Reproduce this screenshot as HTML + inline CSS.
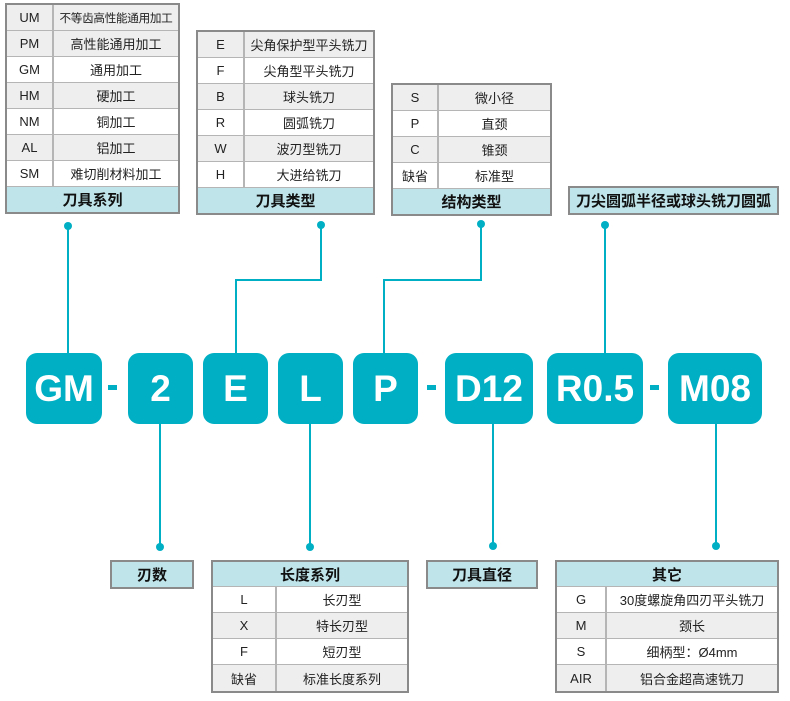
<!DOCTYPE html>
<html><head><meta charset="utf-8"><style>
*{margin:0;padding:0;box-sizing:border-box}
body{width:790px;height:701px;background:#fff;position:relative;overflow:hidden;font-family:"Liberation Sans","Noto Sans CJK SC",sans-serif;color:#222}
.t{position:absolute;border:2px solid #8a8a8a;background:#fff}
.r{display:flex;height:26px;border-bottom:1px solid #b5b5b5;font-size:13px;align-items:stretch}
.r div{display:flex;align-items:center;justify-content:center;white-space:nowrap}
.r .a{border-right:2px solid #b5b5b5}
.r .b{flex:1}
.g{background:#eeeeee}
.h{height:25px;background:#bfe5ea;font-weight:bold;font-size:15px;display:flex;align-items:center;justify-content:center;color:#111}
.bx{position:absolute;top:353px;height:71px;background:#00afc3;border-radius:11px;color:#fff;font-weight:bold;font-size:37px;display:flex;align-items:center;justify-content:center}
.d{position:absolute;top:385px;width:9px;height:5px;background:#00afc3}
svg{position:absolute;left:0;top:0}
</style></head><body>
<svg width="790" height="701">
<g stroke="#00afc3" stroke-width="2" fill="none">
<path d="M68 226 V353"/>
<path d="M321 226 V280 H236 V353"/>
<path d="M481 226 V280 H384 V353"/>
<path d="M605 226 V353"/>
<path d="M160 424 V546"/>
<path d="M310 424 V546"/>
<path d="M493 424 V546"/>
<path d="M716 424 V546"/>
</g>
<g fill="#00afc3">
<circle cx="68" cy="226" r="4"/><circle cx="321" cy="225" r="4"/><circle cx="481" cy="224" r="4"/><circle cx="605" cy="225" r="4"/>
<circle cx="160" cy="547" r="4"/><circle cx="310" cy="547" r="4"/><circle cx="493" cy="546" r="4"/><circle cx="716" cy="546" r="4"/>
</g>
</svg>

<div class="t" style="left:5px;top:3px;width:175px">
<div class="r g"><div class="a" style="width:47px">UM</div><div class="b" style="font-size:11.6px;letter-spacing:-0.3px">不等齿高性能通用加工</div></div>
<div class="r g"><div class="a" style="width:47px">PM</div><div class="b">高性能通用加工</div></div>
<div class="r"><div class="a" style="width:47px">GM</div><div class="b">通用加工</div></div>
<div class="r g"><div class="a" style="width:47px">HM</div><div class="b">硬加工</div></div>
<div class="r"><div class="a" style="width:47px">NM</div><div class="b">铜加工</div></div>
<div class="r g"><div class="a" style="width:47px">AL</div><div class="b">铝加工</div></div>
<div class="r"><div class="a" style="width:47px">SM</div><div class="b">难切削材料加工</div></div>
<div class="h">刀具系列</div>
</div>

<div class="t" style="left:196px;top:30px;width:179px">
<div class="r g"><div class="a" style="width:47px">E</div><div class="b">尖角保护型平头铣刀</div></div>
<div class="r"><div class="a" style="width:47px">F</div><div class="b">尖角型平头铣刀</div></div>
<div class="r g"><div class="a" style="width:47px">B</div><div class="b">球头铣刀</div></div>
<div class="r"><div class="a" style="width:47px">R</div><div class="b">圆弧铣刀</div></div>
<div class="r g"><div class="a" style="width:47px">W</div><div class="b">波刃型铣刀</div></div>
<div class="r"><div class="a" style="width:47px">H</div><div class="b">大进给铣刀</div></div>
<div class="h">刀具类型</div>
</div>

<div class="t" style="left:391px;top:83px;width:161px">
<div class="r g"><div class="a" style="width:46px">S</div><div class="b">微小径</div></div>
<div class="r"><div class="a" style="width:46px">P</div><div class="b">直颈</div></div>
<div class="r g"><div class="a" style="width:46px">C</div><div class="b">锥颈</div></div>
<div class="r"><div class="a" style="width:46px">缺省</div><div class="b">标准型</div></div>
<div class="h">结构类型</div>
</div>

<div class="t" style="left:568px;top:186px;width:211px"><div class="h" style="height:25px">刀尖圆弧半径或球头铣刀圆弧</div></div>

<div class="bx" style="left:26px;width:76px">GM</div>
<div class="d" style="left:108px"></div>
<div class="bx" style="left:128px;width:65px">2</div>
<div class="bx" style="left:203px;width:65px">E</div>
<div class="bx" style="left:278px;width:65px">L</div>
<div class="bx" style="left:353px;width:65px">P</div>
<div class="d" style="left:427px"></div>
<div class="bx" style="left:445px;width:88px">D12</div>
<div class="bx" style="left:547px;width:96px">R0.5</div>
<div class="d" style="left:650px"></div>
<div class="bx" style="left:668px;width:94px">M08</div>

<div class="t" style="left:110px;top:560px;width:84px"><div class="h" style="height:25px">刃数</div></div>

<div class="t" style="left:211px;top:560px;width:198px">
<div class="h" style="border-bottom:1px solid #b5b5b5">长度系列</div>
<div class="r"><div class="a" style="width:64px">L</div><div class="b">长刃型</div></div>
<div class="r g"><div class="a" style="width:64px">X</div><div class="b">特长刃型</div></div>
<div class="r"><div class="a" style="width:64px">F</div><div class="b">短刃型</div></div>
<div class="r g" style="border-bottom:0"><div class="a" style="width:64px">缺省</div><div class="b">标准长度系列</div></div>
</div>

<div class="t" style="left:426px;top:560px;width:112px"><div class="h" style="height:25px">刀具直径</div></div>

<div class="t" style="left:555px;top:560px;width:224px">
<div class="h" style="border-bottom:1px solid #b5b5b5">其它</div>
<div class="r"><div class="a" style="width:50px">G</div><div class="b">30度螺旋角四刃平头铣刀</div></div>
<div class="r g"><div class="a" style="width:50px">M</div><div class="b">颈长</div></div>
<div class="r"><div class="a" style="width:50px">S</div><div class="b">细柄型：Ø4mm</div></div>
<div class="r g" style="border-bottom:0"><div class="a" style="width:50px">AIR</div><div class="b">铝合金超高速铣刀</div></div>
</div>
</body></html>
